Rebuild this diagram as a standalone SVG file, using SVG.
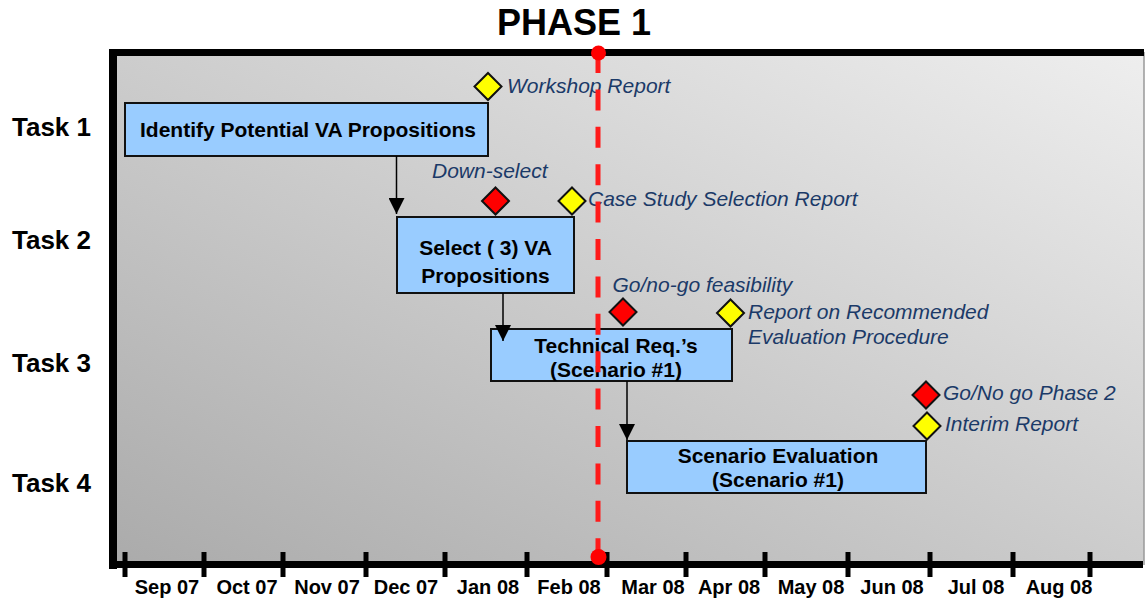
<svg xmlns="http://www.w3.org/2000/svg" width="1146" height="599" viewBox="0 0 1146 599">
<defs>
<linearGradient id="bg" x1="0" y1="1" x2="1" y2="0">
<stop offset="0" stop-color="#ABABAB"/>
<stop offset="1" stop-color="#EEEEEE"/>
</linearGradient>
<marker id="ah" markerUnits="userSpaceOnUse" markerWidth="16" markerHeight="16" refX="16" refY="8" orient="auto" viewBox="0 0 16 16">
<path d="M0,0 L16,8 L0,16 z" fill="#000"/>
</marker>
<style>
.box{fill:#99CCFF;stroke:#111;stroke-width:2}
.bt{font-family:"Liberation Sans",Arial,sans-serif;font-weight:bold;font-size:21px;fill:#000;text-anchor:middle}
.lab{font-family:"Liberation Sans",Arial,sans-serif;font-style:italic;font-size:21px;fill:#1B3A68}
.task{font-family:"Liberation Sans",Arial,sans-serif;font-weight:bold;font-size:26px;fill:#000}
.mon{font-family:"Liberation Sans",Arial,sans-serif;font-weight:bold;font-size:20px;fill:#000;text-anchor:middle}
.ys{fill:#FFFF00;stroke:#111;stroke-width:2}
.rs{fill:#FF0000;stroke:#111;stroke-width:2}
.tick{stroke:#000;stroke-width:5}
.conn{stroke:#000;stroke-width:1.5;fill:none;marker-end:url(#ah)}
</style>
</defs>
<rect width="1146" height="599" fill="#fff"/>
<text x="574" y="35" font-family="Liberation Sans, Arial, sans-serif" font-weight="bold" font-size="36" text-anchor="middle">PHASE 1</text>
<g id="frame">
<rect x="117" y="56" width="1027" height="505" fill="url(#bg)"/>
<line x1="1144" y1="52" x2="1144" y2="565" stroke="#999" stroke-width="1.5"/>
<rect x="109" y="49" width="1035" height="7" fill="#000"/>
<rect x="109" y="49" width="8" height="520" fill="#000"/>
<rect x="109" y="561" width="1034" height="7" fill="#000"/>
</g>
<g id="ticks">
<line class="tick" x1="125" y1="552" x2="125" y2="577"/>
<line class="tick" x1="204" y1="552" x2="204" y2="577"/>
<line class="tick" x1="283" y1="552" x2="283" y2="577"/>
<line class="tick" x1="366" y1="552" x2="366" y2="577"/>
<line class="tick" x1="445" y1="552" x2="445" y2="577"/>
<line class="tick" x1="527" y1="552" x2="527" y2="577"/>
<line class="tick" x1="607" y1="552" x2="607" y2="577"/>
<line class="tick" x1="686" y1="552" x2="686" y2="577"/>
<line class="tick" x1="765" y1="552" x2="765" y2="577"/>
<line class="tick" x1="848" y1="552" x2="848" y2="577"/>
<line class="tick" x1="930" y1="552" x2="930" y2="577"/>
<line class="tick" x1="1013" y1="552" x2="1013" y2="577"/>
<line class="tick" x1="1090" y1="552" x2="1090" y2="577"/>
</g>
<g id="months">
<text class="mon" x="167" y="594">Sep 07</text>
<text class="mon" x="247" y="594">Oct 07</text>
<text class="mon" x="327" y="594">Nov 07</text>
<text class="mon" x="406" y="594">Dec 07</text>
<text class="mon" x="488" y="594">Jan 08</text>
<text class="mon" x="569" y="594">Feb 08</text>
<text class="mon" x="653" y="594">Mar 08</text>
<text class="mon" x="729" y="594">Apr 08</text>
<text class="mon" x="811" y="594">May 08</text>
<text class="mon" x="892" y="594">Jun 08</text>
<text class="mon" x="976" y="594">Jul 08</text>
<text class="mon" x="1059" y="594">Aug 08</text>
</g>
<g id="tasks">
<text class="task" x="12" y="136">Task 1</text>
<text class="task" x="12" y="249">Task 2</text>
<text class="task" x="12" y="372">Task 3</text>
<text class="task" x="12" y="492">Task 4</text>
</g>
<g id="task1">
<rect class="box" x="125" y="103" width="363" height="53"/>
<text class="bt" x="308" y="137">Identify Potential VA Propositions</text>
</g>
<g id="task2">
<rect class="box" x="397" y="217" width="177" height="76"/>
<text class="bt" x="485.5" y="255">Select ( 3) VA</text>
<text class="bt" x="485.5" y="283">Propositions</text>
</g>
<g id="task3">
<rect class="box" x="491" y="329" width="241" height="52"/>
<text class="bt" x="616" y="353">Technical Req.’s</text>
<text class="bt" x="616" y="377">(Scenario #1)</text>
</g>
<g id="task4">
<rect class="box" x="627" y="441" width="299" height="52"/>
<text class="bt" x="778" y="463">Scenario Evaluation</text>
<text class="bt" x="778" y="487">(Scenario #1)</text>
</g>
<g id="connectors">
<line class="conn" x1="396.5" y1="156" x2="396.5" y2="214"/>
<line class="conn" x1="503" y1="293" x2="503" y2="341"/>
<line class="conn" x1="627" y1="381" x2="627" y2="440"/>
</g>
<g id="m-workshop">
<path class="ys" d="M488,73 L501.5,86.5 L488,100 L474.5,86.5 z"/>
<text class="lab" x="507" y="93">Workshop Report</text>
</g>
<g id="m-downselect">
<path class="rs" d="M495.5,187.5 L509,201 L495.5,214.5 L482,201 z"/>
<text class="lab" x="432" y="178">Down-select</text>
</g>
<g id="m-casestudy">
<path class="ys" d="M572,187.5 L585.5,201 L572,214.5 L558.5,201 z"/>
<text class="lab" x="588" y="206">Case Study Selection Report</text>
</g>
<g id="m-gonogo">
<path class="rs" d="M623,298.5 L636.5,312 L623,325.5 L609.5,312 z"/>
<text class="lab" x="612.5" y="292">Go/no-go feasibility</text>
</g>
<g id="m-report">
<path class="ys" d="M730.5,299.5 L744,313 L730.5,326.5 L717,313 z"/>
<text class="lab" x="748" y="319">Report on Recommended</text>
<text class="lab" x="748" y="344">Evaluation Procedure</text>
</g>
<g id="m-phase2">
<path class="rs" d="M926,381.5 L939.5,395 L926,408.5 L912.5,395 z"/>
<text class="lab" x="943" y="400">Go/No go Phase 2</text>
</g>
<g id="m-interim">
<path class="ys" d="M927,412.5 L940.5,426 L927,439.5 L913.5,426 z"/>
<text class="lab" x="945" y="431">Interim Report</text>
</g>
<g id="today">
<line x1="598" y1="52" x2="598" y2="557" stroke="#FF1A1A" stroke-width="5" stroke-dasharray="21 16.4"/>
<circle cx="598.5" cy="53" r="7.5" fill="#FF0000"/>
<circle cx="598.5" cy="557" r="8" fill="#FF0000"/>
</g>
</svg>
